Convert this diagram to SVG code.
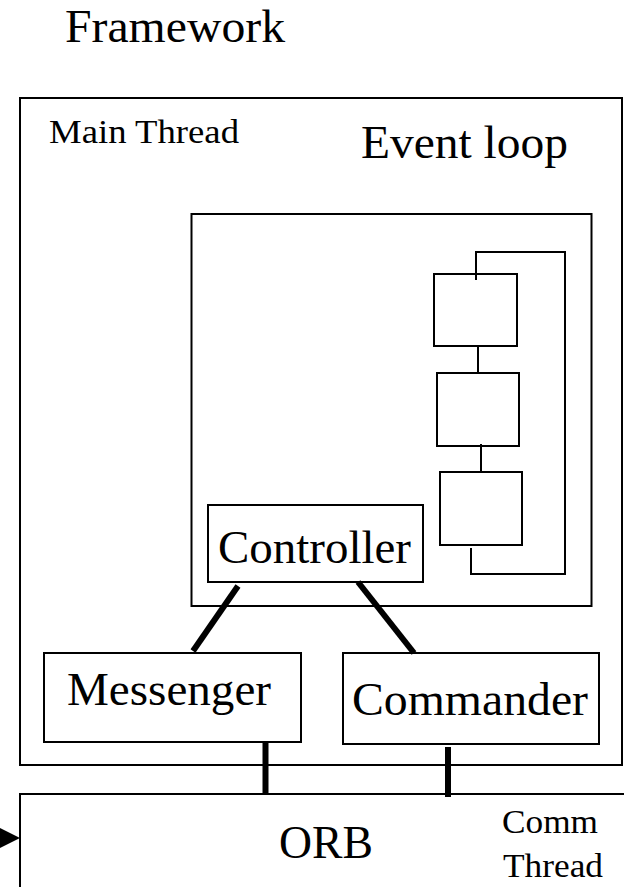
<svg xmlns="http://www.w3.org/2000/svg" width="624" height="887" viewBox="0 0 624 887">
<style>
.box{fill:none;stroke:#000;stroke-width:2}
.thin{fill:none;stroke:#000;stroke-width:2}
.thick{fill:none;stroke:#000;stroke-width:6}
text{font-family:"Liberation Serif","Times New Roman",serif;fill:#000}
.big{font-size:46px}
.small{font-size:33px}
</style>
<rect width="624" height="887" fill="#fff"/>
<text x="65" y="42" style="font-size:46px" textLength="220" lengthAdjust="spacingAndGlyphs">Framework</text>
<g id="main-thread">
<rect class="box" x="20" y="98" width="602" height="667"/>
<text class="small" x="49" y="143" textLength="190" lengthAdjust="spacingAndGlyphs">Main Thread</text>
</g>
<g id="event-loop">
<rect class="box" x="191.5" y="214" width="400" height="392"/>
<text class="big" x="361" y="158" textLength="207" lengthAdjust="spacingAndGlyphs">Event loop</text>
</g>
<g id="loop-box-1"><rect class="box" x="434" y="274" width="83" height="72"/></g>
<g id="loop-box-2"><rect class="box" x="437" y="373" width="82" height="73"/></g>
<g id="loop-box-3"><rect class="box" x="440" y="472" width="82" height="73"/></g>
<g id="controller">
<rect class="box" x="208" y="505" width="215" height="77"/>
<text class="big" x="218" y="563" textLength="193" lengthAdjust="spacingAndGlyphs">Controller</text>
</g>
<g id="messenger">
<rect class="box" x="44" y="653" width="257" height="89"/>
<text class="big" x="67" y="705" textLength="204" lengthAdjust="spacingAndGlyphs">Messenger</text>
</g>
<g id="commander">
<rect class="box" x="343" y="653" width="256" height="91"/>
<text class="big" x="352" y="715" textLength="236" lengthAdjust="spacingAndGlyphs">Commander</text>
</g>
<g id="orb">
<rect class="box" x="20" y="794" width="620" height="120"/>
<text class="big" x="279" y="858" textLength="94" lengthAdjust="spacingAndGlyphs">ORB</text>
<text class="small" x="502" y="833" textLength="96" lengthAdjust="spacingAndGlyphs">Comm</text>
<text class="small" x="503" y="877" textLength="100" lengthAdjust="spacingAndGlyphs">Thread</text>
</g>
<g id="connectors">
<line class="thin" x1="478" y1="346" x2="478" y2="373"/>
<line class="thin" x1="481" y1="444" x2="481" y2="472"/>
<path class="thin" d="M476,280 V252 H565 V574 H471 V548"/>
<line class="thick" x1="238" y1="586" x2="193" y2="651"/>
<line class="thick" x1="358" y1="582" x2="414" y2="653"/>
<line class="thick" x1="265.5" y1="742" x2="265.5" y2="794"/>
<line class="thick" x1="448" y1="747" x2="448" y2="797"/>
<polygon points="0,828 20,838 0,848" fill="#000"/>
</g>
</svg>
